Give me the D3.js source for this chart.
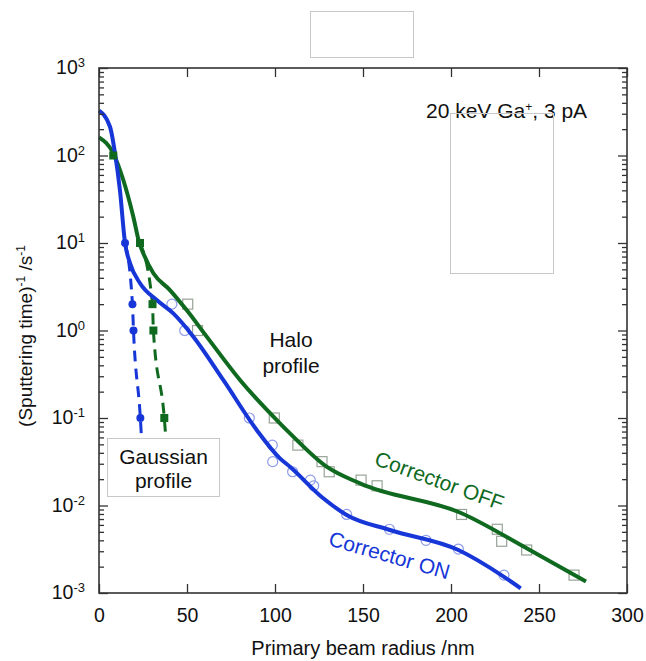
<!DOCTYPE html>
<html><head><meta charset="utf-8">
<script src="https://cdn.jsdelivr.net/npm/d3@7"></script>
<style>
html,body{margin:0;padding:0;background:#fff;}
svg{display:block;font-family:"Liberation Sans",Arial,Helvetica,sans-serif;}
</style></head>
<body>
<svg id="c" width="646" height="661"></svg>
<script>
// ---------- data ----------
const xTicks = [0, 50, 100, 150, 200, 250, 300];
const yDecades = [1e-3, 1e-2, 1e-1, 1e0, 1e1, 1e2, 1e3];
const yExponents = ["-3", "-2", "-1", "0", "1", "2", "3"];

// Corrector ON fitted curve (halo)
const onFitR = [0, 6.25, 9.1, 11.9, 14.8, 17.6, 23.3, 32.8, 42.2, 53.6, 70.6, 89.6, 102.8, 108.5, 127.4, 140.7, 165.3, 204.2, 229.7, 239.6];
const onFitV = [325, 213, 106, 40, 10, 5.9, 3.47, 2.23, 1.57, 0.85, 0.272, 0.073, 0.0346, 0.0277, 0.0121, 0.0078, 0.00525, 0.0031, 0.00155, 0.00113];
// Corrector OFF fitted curve (halo)
const offFitR = [0, 8.1, 13.8, 19.5, 22.9, 25.2, 30.9, 40.3, 49.8, 61.2, 80.1, 102.8, 108.5, 129.3, 148.3, 206, 243, 276.7];
const offFitV = [161, 106, 52.5, 20, 10, 7.59, 4.51, 2.9, 1.71, 0.851, 0.272, 0.087, 0.0668, 0.0278, 0.0179, 0.00815, 0.00324, 0.00135];

// Gaussian profile points (filled markers)
const onGaussR = [14.8, 19.0, 19.6, 23.5];
const onGaussV = [10, 2, 1, 0.1];
const offGaussR = [8.1, 23.3, 30.4, 30.9, 37.1];
const offGaussV = [100, 10, 2, 1, 0.1];
// Gaussian fit (dashed)
const onGaussFitR = [14.8, 19.0, 19.6, 23.5, 24.6];
const onGaussFitV = [10, 2, 1, 0.1, 0.04];
const offGaussFitR = [23.3, 30.4, 30.9, 37.1, 38.6];
const offGaussFitV = [10, 2, 1, 0.1, 0.04];

// Halo measured points (hollow markers)
const onHaloR = [41.4, 48.7, 85.4, 98.5, 98.7, 110, 120.1, 122, 140.7, 165, 185.8, 204.2, 230.1];
const offHaloR = [50.4, 56, 99.6, 113, 126.7, 130.8, 148.9, 158, 206, 226.3, 228.8, 243, 269.9];
const haloV = [2, 1, 0.1, 0.049, 0.0317, 0.0243, 0.0195, 0.0168, 0.0079, 0.00535, 0.0039, 0.0031, 0.0016];
const onHaloV = [2, 1, 0.1, 0.049, 0.0317, 0.0243, 0.0195, 0.0168, 0.0079, 0.00535, 0.0040, 0.00318, 0.0016];

// ---------- layout ----------
const L = 99, R = 627, T = 68, B = 593;
const BLUE = "#1636d8", GREEN = "#0f6a1f";
const svg = d3.select("#c");
const x = d3.scaleLinear().domain([0, 300]).range([L, R]);
const y = d3.scaleLog().domain([1e-3, 1e3]).range([B, T]);

const minors = [];
yDecades.slice(0, -1).forEach(d => { for (let k = 2; k <= 9; k++) minors.push(d * k); });

// empty boxes (decorative)
svg.append("rect").attr("x", 310.5).attr("y", 11.5).attr("width", 103).attr("height", 46)
  .attr("fill", "#fff").attr("stroke", "#c8c8c8").attr("stroke-width", 1);

// ---------- curves ----------
const line = d3.line().x(d => x(d[0])).y(d => y(d[1])).curve(d3.curveMonotoneX);
const zip = (a, b) => a.map((v, i) => [v, b[i]]);

svg.append("path").datum(zip(offGaussFitR, offGaussFitV)).attr("d", line)
  .attr("fill", "none").attr("stroke", GREEN).attr("stroke-width", 3).attr("stroke-dasharray", "11,7");
svg.append("path").datum(zip(onGaussFitR, onGaussFitV)).attr("d", line)
  .attr("fill", "none").attr("stroke", BLUE).attr("stroke-width", 3).attr("stroke-dasharray", "11,7");

// hollow markers
svg.append("g").selectAll("rect").data(zip(offHaloR, haloV)).join("rect")
  .attr("x", d => x(d[0]) - 5).attr("y", d => y(d[1]) - 5).attr("width", 10).attr("height", 10)
  .attr("fill", "none").attr("stroke", "#98a498").attr("stroke-width", 1.2);
svg.append("g").selectAll("circle").data(zip(onHaloR, onHaloV)).join("circle")
  .attr("cx", d => x(d[0])).attr("cy", d => y(d[1])).attr("r", 5)
  .attr("fill", "none").attr("stroke", "#8e9ce8").attr("stroke-width", 1.2);

svg.append("path").datum(zip(offFitR, offFitV)).attr("d", line)
  .attr("fill", "none").attr("stroke", GREEN).attr("stroke-width", 4).attr("stroke-linecap", "butt");
svg.append("path").datum(zip(onFitR, onFitV)).attr("d", line)
  .attr("fill", "none").attr("stroke", BLUE).attr("stroke-width", 4).attr("stroke-linecap", "butt");

// filled markers
svg.append("g").selectAll("rect").data(zip(offGaussR, offGaussV)).join("rect")
  .attr("x", d => x(d[0]) - 4).attr("y", d => y(d[1]) - 4).attr("width", 8).attr("height", 8)
  .attr("fill", GREEN);
svg.append("g").selectAll("circle").data(zip(onGaussR, onGaussV)).join("circle")
  .attr("cx", d => x(d[0])).attr("cy", d => y(d[1])).attr("r", 4)
  .attr("fill", BLUE);

// ---------- axes ----------
const frame = "#333";
function styleAxis(g) {
  g.select(".domain").remove();
  g.selectAll(".tick line").attr("stroke", frame).attr("stroke-width", 1.3);
}
// left
svg.append("g").attr("transform", `translate(${L},0)`)
  .call(d3.axisLeft(y).tickValues(minors).tickSize(-5).tickFormat(""))
  .call(styleAxis);
const leftMajor = svg.append("g").attr("transform", `translate(${L},0)`)
  .call(d3.axisLeft(y).tickValues(yDecades).tickSize(-9).tickFormat(""))
  .call(styleAxis);
leftMajor.selectAll(".tick text").remove();
leftMajor.selectAll(".tick").each(function (d, i) {
  const t = d3.select(this).append("text").attr("x", -14).attr("y", 5.5)
    .attr("text-anchor", "end").attr("fill", "#111").attr("font-size", 19.5);
  t.append("tspan").text("10");
  t.append("tspan").attr("dy", -7).attr("font-size", 13).text(yExponents[i]);
});
// right
svg.append("g").attr("transform", `translate(${R},0)`)
  .call(d3.axisRight(y).tickValues(minors).tickSize(-5).tickFormat(""))
  .call(styleAxis);
svg.append("g").attr("transform", `translate(${R},0)`)
  .call(d3.axisRight(y).tickValues(yDecades).tickSize(-9).tickFormat(""))
  .call(styleAxis);
// bottom
const bottom = svg.append("g").attr("transform", `translate(0,${B})`)
  .call(d3.axisBottom(x).tickValues(xTicks).tickSize(-9).tickPadding(15).tickFormat(d3.format("d")))
  .call(styleAxis);
bottom.selectAll(".tick text").attr("font-size", 19.5).attr("fill", "#111")
  .attr("font-family", "Liberation Sans, Arial, sans-serif");
// top
svg.append("g").attr("transform", `translate(0,${T})`)
  .call(d3.axisTop(x).tickValues(xTicks).tickSize(-9).tickFormat(""))
  .call(styleAxis);
// frame
svg.append("rect").attr("x", L).attr("y", T).attr("width", R - L).attr("height", B - T)
  .attr("fill", "none").attr("stroke", frame).attr("stroke-width", 1.6);

// ---------- annotations ----------
// Gaussian profile box
svg.append("rect").attr("x", 107.5).attr("y", 438.5).attr("width", 112).attr("height", 58)
  .attr("fill", "#fff").attr("stroke", "#c8c8c8").attr("stroke-width", 1);
svg.append("text").attr("x", 163.5).attr("y", 464).attr("text-anchor", "middle")
  .attr("font-size", 21).attr("fill", "#111").text("Gaussian");
svg.append("text").attr("x", 163.5).attr("y", 488).attr("text-anchor", "middle")
  .attr("font-size", 21).attr("fill", "#111").text("profile");

svg.append("text").attr("x", 291).attr("y", 347).attr("text-anchor", "middle")
  .attr("font-size", 21).attr("fill", "#111").text("Halo");
svg.append("text").attr("x", 291).attr("y", 373).attr("text-anchor", "middle")
  .attr("font-size", 21).attr("fill", "#111").text("profile");

const cond = svg.append("text").attr("x", 426).attr("y", 118).attr("font-size", 21).attr("fill", "#111");
cond.append("tspan").text("20 keV Ga");
cond.append("tspan").attr("dy", -7).attr("font-size", 12).text("+");
cond.append("tspan").attr("dy", 7).text(", 3 pA");

svg.append("rect").attr("x", 450.5).attr("y", 113.5).attr("width", 103).attr("height", 160)
  .attr("fill", "none").attr("stroke", "#c8c8c8").attr("stroke-width", 1);

svg.append("text").attr("transform", "translate(439.5,480.5) rotate(20)")
  .attr("text-anchor", "middle").attr("dominant-baseline", "central")
  .attr("font-size", 21).attr("fill", GREEN).text("Corrector OFF");
svg.append("text").attr("transform", "translate(389.5,555) rotate(16)")
  .attr("text-anchor", "middle").attr("dominant-baseline", "central")
  .attr("font-size", 21).attr("fill", BLUE).text("Corrector ON");

// axis titles
svg.append("text").attr("x", (L + R) / 2).attr("y", 655).attr("text-anchor", "middle")
  .attr("font-size", 20).attr("fill", "#111").text("Primary beam radius /nm");
const yl = svg.append("text").attr("transform", "translate(32,336) rotate(-90)")
  .attr("text-anchor", "middle").attr("font-size", 19).attr("fill", "#111");
yl.append("tspan").text("(Sputtering time)");
yl.append("tspan").attr("dy", -7).attr("font-size", 12).text("-1");
yl.append("tspan").attr("dy", 7).text(" /s");
yl.append("tspan").attr("dy", -7).attr("font-size", 12).text("-1");
</script>
</body></html>
